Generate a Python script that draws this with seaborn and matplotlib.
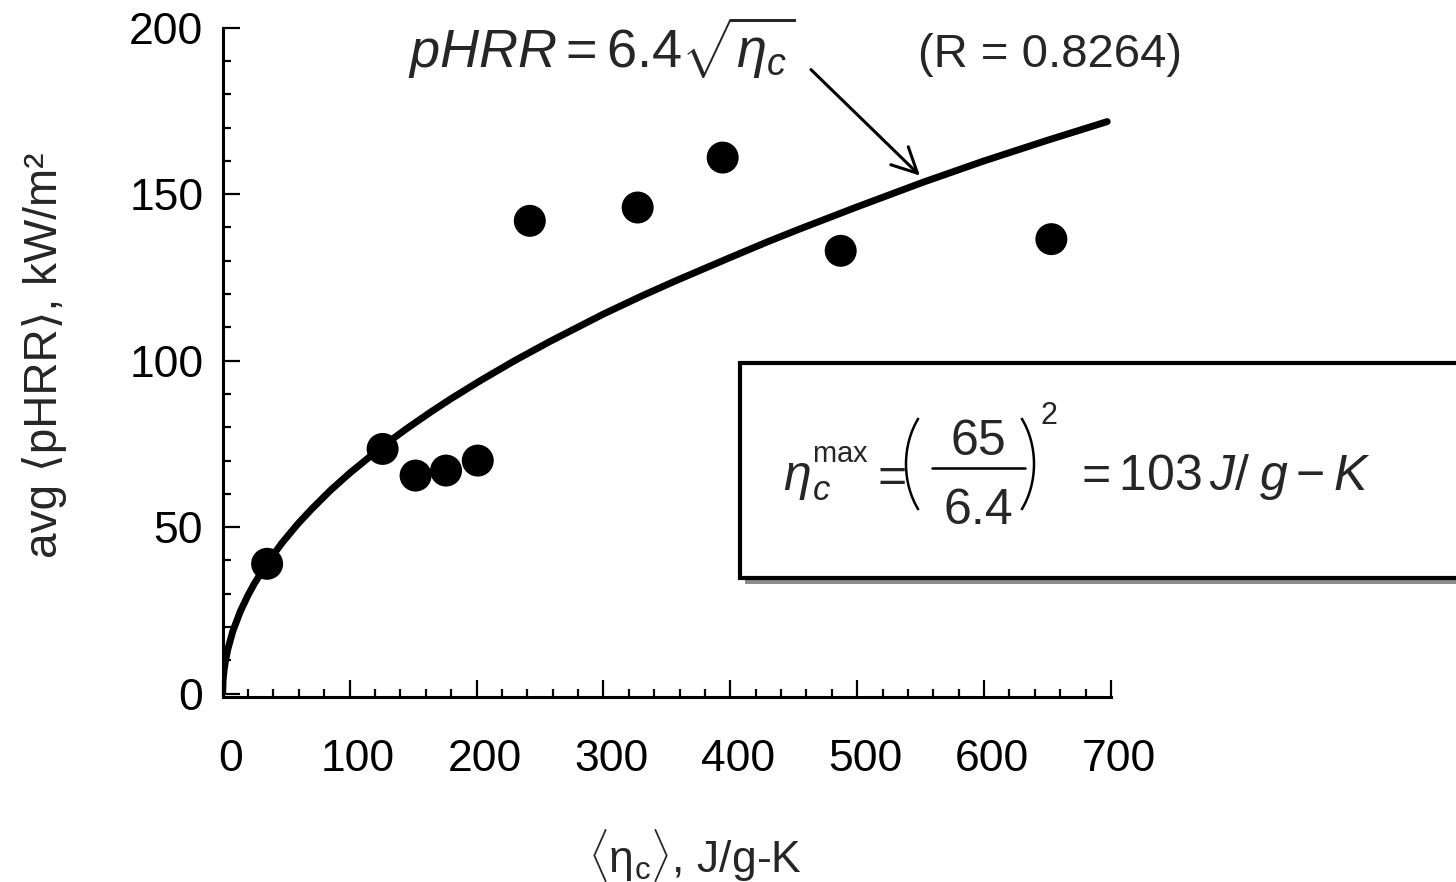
import numpy as np
import matplotlib
matplotlib.use('Agg')
import matplotlib.pyplot as plt
import matplotlib.patches as mpatches
import matplotlib.lines as mlines
import matplotlib.transforms as mtransforms
import seaborn as sns
import pandas as pd

# measured points
eta_c = [35, 126, 152, 176, 201, 242, 327, 394, 487, 653]
phrr = [39, 73.5, 65.5, 67, 70, 142, 146, 161, 133, 136.5]

# fit curve
fit_x = [0, 0.3, 1, 2, 4, 8, 14, 20, 25, 36, 47, 59, 70, 85, 100, 126,
         145, 164, 180, 203, 230, 258, 300, 330, 357, 400, 430, 455, 500,
         552, 600, 650, 697]
fit_y = [0.5, 4, 6.8, 9.5, 13.3, 18.8, 24.8, 29.6, 33.1, 39.7, 45.4, 50.9,
         55.4, 61.1, 66.2, 74.3, 79.6, 84.6, 88.6, 94.0, 100.0, 105.8, 114.0,
         119.4, 124.0, 131.0, 135.8, 139.6, 146.2, 153.6, 160.0, 166.2, 171.8]

x_ticks = [0, 100, 200, 300, 400, 500, 600, 700]
y_ticks = [0, 50, 100, 150, 200]

sns.set_style('ticks')
plt.rcParams['font.family'] = ['Liberation Sans', 'DejaVu Sans']
plt.rcParams['mathtext.fontset'] = 'custom'
plt.rcParams['mathtext.rm'] = 'Liberation Sans'
plt.rcParams['mathtext.it'] = 'Liberation Sans:italic'
plt.rcParams['mathtext.bf'] = 'Liberation Sans:bold'

W, H = 1456, 882
fig = plt.figure(figsize=(W / 100, H / 100), dpi=100)
ax = fig.add_axes([222.7 / W, 1 - 697 / H, (1111 - 222.7) / W, (697 - 27.7) / H])

df_fit = pd.DataFrame({'x': fit_x, 'y': fit_y})
df_pts = pd.DataFrame({'x': eta_c, 'y': phrr})

sns.lineplot(data=df_fit, x='x', y='y', sort=False, color='black', lw=5,
             ax=ax, solid_capstyle='round', solid_joinstyle='round')
sns.scatterplot(data=df_pts, x='x', y='y', color='black', s=530,
                edgecolor='none', ax=ax, zorder=3)

ax.set_xlim(0, 700)
ax.set_ylim(-1, 200)
ax.set_xticks(x_ticks)
ax.set_yticks(y_ticks)
ax.set_xticks(np.arange(0, 701, 20), minor=True)
ax.set_yticks(np.arange(0, 201, 10), minor=True)
ax.tick_params(which='both', direction='in', width=1.6, labelsize=32, colors='black')
ax.tick_params(which='major', length=12)
ax.tick_params(which='minor', length=6)
ax.tick_params(axis='x', pad=30)
ax.tick_params(axis='y', pad=14)
for sp in ['top', 'right']:
    ax.spines[sp].set_visible(False)
for sp in ['left', 'bottom']:
    ax.spines[sp].set_linewidth(2.2)
    ax.spines[sp].set_color('black')

off = mtransforms.ScaledTranslation(8 / 100, 0, fig.dpi_scale_trans)
for lab in ax.get_xticklabels():
    lab.set_transform(lab.get_transform() + off)

ax.set_xlabel('')
ax.set_ylabel('')
fig.text(695 / W, 1 - 855 / H, r'$\langle\mathrm{\eta}_\mathrm{c}\rangle$, J/g-K',
         ha='center', va='center', fontsize=32)
fig.text(45 / W, 1 - 355 / H, 'avg \u27e8pHRR\u27e9, kW/m\u00b2', rotation=90,
         ha='center', va='center', fontsize=33)

# fit equation and arrow
fig.text(408 / W, 1 - 68 / H, r'$pHRR = 6.4\sqrt{\eta_c}$', ha='left',
         va='baseline', fontsize=39)
fig.text(918 / W, 1 - 55 / H, '(R = 0.8264)', ha='left', va='center', fontsize=34)
ax.annotate('', xy=(551, 155), xytext=(462, 188),
            arrowprops=dict(arrowstyle='->', lw=2.2, color='black', mutation_scale=45),
            annotation_clip=False)

# boxed result with shadow
bx, by, bh = 740 / W, 1 - 578 / H, (578 - 363) / H
shadow = mpatches.Rectangle((bx + 5 / W, by - 6 / H), 0.5, bh, transform=fig.transFigure,
                            facecolor='#8c8c8c', edgecolor='none', zorder=5)
box = mpatches.Rectangle((bx, by), 0.5, bh, transform=fig.transFigure,
                         facecolor='white', edgecolor='black', lw=3, zorder=6)
fig.patches.extend([shadow, box])


def px(x, y):
    return x / W, 1 - y / H


fs = 36
fig.text(*px(783, 490), r'$\eta$', ha='left', va='baseline', fontsize=fs, zorder=7)
fig.text(*px(812, 500), r'$c$', ha='left', va='baseline', fontsize=25, zorder=7)
fig.text(*px(812, 462), r'$\mathrm{max}$', ha='left', va='baseline', fontsize=21, zorder=7)
fig.text(*px(888, 490), r'$=$', ha='center', va='baseline', fontsize=fs, zorder=7)
fig.text(*px(978, 455), '65', ha='center', va='baseline', fontsize=fs, zorder=7)
fig.text(*px(978, 524), '6.4', ha='center', va='baseline', fontsize=fs, zorder=7)
fig.text(*px(1040, 424), '2', ha='left', va='baseline', fontsize=22, zorder=7)
fig.text(*px(1073, 490), r'$=103\,J/\;g-K$', ha='left', va='baseline',
         fontsize=fs, zorder=7)
bar = mlines.Line2D([932 / W, 1025 / W], [1 - 468 / H] * 2, transform=fig.transFigure,
                    color='black', lw=1.8, zorder=7)
lpar = mpatches.Arc(px(966, 464), 120 / W, 150 / H, theta1=122, theta2=238,
                    transform=fig.transFigure, color='black', lw=1.8, zorder=7)
rpar = mpatches.Arc(px(974, 464), 120 / W, 150 / H, theta1=-58, theta2=58,
                    transform=fig.transFigure, color='black', lw=1.8, zorder=7)
fig.lines.append(bar)
fig.patches.extend([lpar, rpar])

fig.savefig('out.png', dpi=100)
